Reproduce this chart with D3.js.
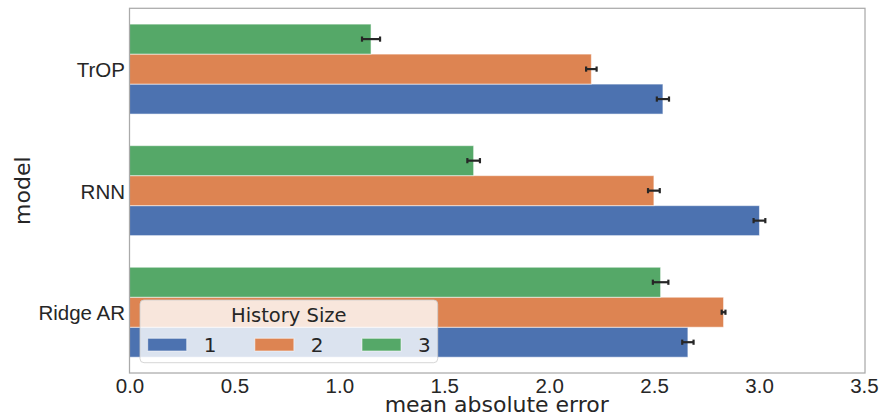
<!DOCTYPE html>
<html>
<head>
<meta charset="utf-8">
<script src="https://cdn.jsdelivr.net/npm/d3@7"></script>
<style>
  html, body { margin: 0; padding: 0; background: #fff; }
  svg { display: block; font-family: "DejaVu Sans", sans-serif; }
</style>
</head>
<body>
<svg id="chart" width="881" height="419"></svg>
<script>
// ---- data ----
const models = ["TrOP", "RNN", "Ridge AR"];
const historySizes = ["1", "2", "3"];
const maeH1 = [2.542, 3.002, 2.661];
const maeH2 = [2.201, 2.499, 2.831];
const maeH3 = [1.151, 1.640, 2.531];
const errH1 = [0.029, 0.028, 0.027];
const errH2 = [0.025, 0.028, 0.009];
const errH3 = [0.043, 0.030, 0.037];
const xTicks = [0.0, 0.5, 1.0, 1.5, 2.0, 2.5, 3.0, 3.5];
const colors = ["#4c72b0", "#dd8452", "#55a868"];
const xLabel = "mean absolute error";
const yLabel = "model";
const legendTitle = "History Size";

const maeBySize = [maeH1, maeH2, maeH3];
const errBySize = [errH1, errH2, errH3];
const rows = [];
models.forEach((m, i) => {
  historySizes.forEach((h, j) => {
    rows.push({ model: m, size: h, value: maeBySize[j][i], err: errBySize[j][i], color: colors[j] });
  });
});

// ---- layout ----
const plot = { left: 129.5, right: 865, top: 8.3, bottom: 373 };
const svg = d3.select("#chart");

const x = d3.scaleLinear().domain([0, 3.505]).range([plot.left, plot.right]);
const y = d3.scalePoint().domain(models).range([plot.top, plot.bottom]).padding(0.5);
const groupH = y.step() * 0.74;
const ySub = d3.scaleBand().domain(["3", "2", "1"]).range([-groupH / 2, groupH / 2]);

// bars
const g = svg.append("g");
g.selectAll("rect.bar").data(rows).join("rect")
  .attr("class", "bar")
  .attr("x", x(0))
  .attr("y", d => y(d.model) + ySub(d.size))
  .attr("width", d => x(d.value) - x(0))
  .attr("height", ySub.bandwidth())
  .attr("fill", d => d.color)
  .attr("stroke", "#ffffff")
  .attr("stroke-opacity", 0.55)
  .attr("stroke-width", 1);

// error bars
const eb = g.selectAll("g.err").data(rows).join("g").attr("class", "err")
  .attr("stroke", "#262626").attr("stroke-width", 2.2);
eb.append("line")
  .attr("x1", d => x(d.value - d.err)).attr("x2", d => x(d.value + d.err))
  .attr("y1", d => y(d.model) + ySub(d.size) + ySub.bandwidth() / 2)
  .attr("y2", d => y(d.model) + ySub(d.size) + ySub.bandwidth() / 2);
[-1, 1].forEach(s => {
  eb.append("line")
    .attr("x1", d => x(d.value + s * d.err)).attr("x2", d => x(d.value + s * d.err))
    .attr("y1", d => y(d.model) + ySub(d.size) + ySub.bandwidth() / 2 - 2.6)
    .attr("y2", d => y(d.model) + ySub(d.size) + ySub.bandwidth() / 2 + 2.6);
});

// frame
svg.append("rect")
  .attr("x", plot.left).attr("y", plot.top)
  .attr("width", plot.right - plot.left).attr("height", plot.bottom - plot.top)
  .attr("fill", "none").attr("stroke", "#aaaaaa").attr("stroke-width", 1.25);

// x axis
const xAxis = d3.axisBottom(x).tickValues(xTicks).tickFormat(d3.format(".1f")).tickSize(0).tickPadding(0);
const xg = svg.append("g").attr("transform", `translate(0,${plot.bottom})`).call(xAxis);
xg.select(".domain").remove();
xg.selectAll("text").attr("font-size", 20.5).attr("fill", "#262626")
  .attr("dy", null).attr("y", 19.5);

// y axis
const yAxis = d3.axisLeft(y).tickSize(0).tickPadding(4.5);
const yg = svg.append("g").attr("transform", `translate(${plot.left},0)`).call(yAxis);
yg.select(".domain").remove();
yg.selectAll("text").attr("font-size", 20.5).attr("fill", "#262626").attr("dy", "0.36em");

// axis labels
svg.append("text").attr("x", (plot.left + plot.right) / 2 - 0.5).attr("y", 411.7)
  .attr("text-anchor", "middle").attr("font-size", 22).attr("fill", "#262626").text(xLabel);
svg.append("text").attr("transform", `translate(30,${(plot.top + plot.bottom) / 2}) rotate(-90)`)
  .attr("text-anchor", "middle").attr("font-size", 22).attr("fill", "#262626").text(yLabel);

// legend
const lg = svg.append("g");
lg.append("rect").attr("x", 140).attr("y", 300).attr("width", 297.7).attr("height", 62.7)
  .attr("rx", 4).attr("fill", "#ffffff").attr("fill-opacity", 0.8)
  .attr("stroke", "#cccccc").attr("stroke-opacity", 0.8).attr("stroke-width", 1);
lg.append("text").attr("x", 288.8).attr("y", 322.3).attr("text-anchor", "middle")
  .attr("font-size", 19.5).attr("fill", "#262626").text(legendTitle);
const legX = d3.scalePoint().domain(historySizes).range([147.7, 362]);
const li = lg.selectAll("g.item").data(historySizes).join("g").attr("class", "item");
li.append("rect").attr("x", d => legX(d)).attr("y", 338.3).attr("width", 39).attr("height", 12.7)
  .attr("fill", (d, i) => colors[i]).attr("stroke", "#ffffff").attr("stroke-opacity", 0.55);
li.append("text").attr("x", d => legX(d) + 56).attr("y", 351.7)
  .attr("font-size", 20).attr("fill", "#262626").text(d => d);
</script>
</body>
</html>
